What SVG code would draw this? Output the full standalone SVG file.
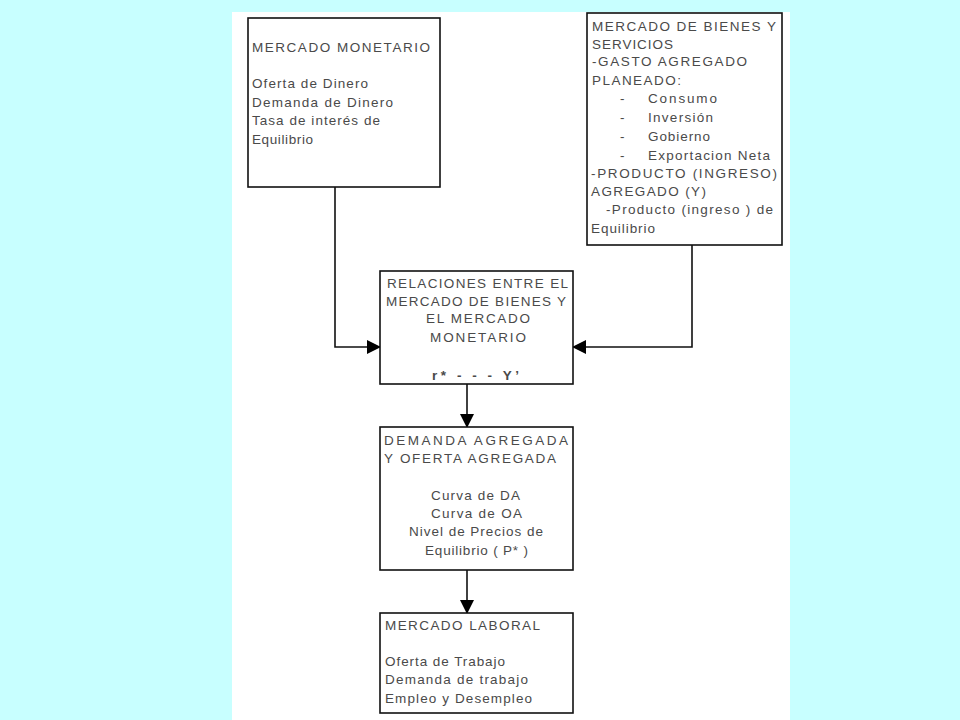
<svg xmlns="http://www.w3.org/2000/svg" width="960" height="720" viewBox="0 0 960 720">
<defs>
<style>
.box{fill:#fff;stroke:#111;stroke-width:1.6}
.t{font-family:"Liberation Sans",Arial,sans-serif;font-size:13.5px;fill:#4a4a4a}
.edge{fill:none;stroke:#111;stroke-width:1.6}
</style>
<marker id="arr" markerUnits="userSpaceOnUse" markerWidth="14" markerHeight="14" refX="13" refY="7" orient="auto">
<path d="M0,0 L14,7 L0,14 z" fill="#000"/>
</marker>
</defs>
<rect x="0" y="0" width="960" height="720" fill="#C8FFFF"/>
<rect x="232" y="12" width="558" height="708" fill="#fff"/>
<g id="connectors">
<path class="edge" d="M335,187 V347 H380" marker-end="url(#arr)"/>
<path class="edge" d="M692,245 V347 H573" marker-end="url(#arr)"/>
<path class="edge" d="M467,384 V427" marker-end="url(#arr)"/>
<path class="edge" d="M467,570 V613" marker-end="url(#arr)"/>
</g>
<g id="mercado-monetario">
<rect class="box" x="248" y="18" width="192" height="169"/>
<text class="t" x="252" y="52" textLength="178" lengthAdjust="spacing">MERCADO MONETARIO</text>
<text class="t" x="252" y="88" textLength="116" lengthAdjust="spacing">Oferta de Dinero</text>
<text class="t" x="252" y="107" textLength="141" lengthAdjust="spacing">Demanda de Dinero</text>
<text class="t" x="252" y="125" textLength="128" lengthAdjust="spacing">Tasa de interés de</text>
<text class="t" x="252" y="144" textLength="61" lengthAdjust="spacing">Equilibrio</text>
</g>
<g id="mercado-bienes">
<rect class="box" x="587" y="13" width="195" height="232"/>
<text class="t" x="592" y="31" textLength="184" lengthAdjust="spacing">MERCADO DE BIENES Y</text>
<text class="t" x="592" y="49" textLength="81" lengthAdjust="spacing">SERVICIOS</text>
<text class="t" x="592" y="66" textLength="155" lengthAdjust="spacing">-GASTO AGREGADO</text>
<text class="t" x="592" y="85" textLength="89" lengthAdjust="spacing">PLANEADO:</text>
<text class="t" x="620" y="103">-</text>
<text class="t" x="648" y="103" textLength="69" lengthAdjust="spacing">Consumo</text>
<text class="t" x="620" y="122">-</text>
<text class="t" x="648" y="122" textLength="65" lengthAdjust="spacing">Inversión</text>
<text class="t" x="620" y="141">-</text>
<text class="t" x="648" y="141" textLength="62" lengthAdjust="spacing">Gobierno</text>
<text class="t" x="620" y="160">-</text>
<text class="t" x="648" y="160" textLength="122" lengthAdjust="spacing">Exportacion Neta</text>
<text class="t" x="591" y="178" textLength="186" lengthAdjust="spacing">-PRODUCTO (INGRESO)</text>
<text class="t" x="591" y="196" textLength="115" lengthAdjust="spacing">AGREGADO (Y)</text>
<text class="t" x="606" y="214" textLength="167" lengthAdjust="spacing">-Producto (ingreso ) de</text>
<text class="t" x="591" y="233" textLength="64" lengthAdjust="spacing">Equilibrio</text>
</g>
<g id="relaciones">
<rect class="box" x="380" y="271" width="193" height="113"/>
<text class="t" x="387" y="288" textLength="181" lengthAdjust="spacing">RELACIONES ENTRE EL</text>
<text class="t" x="386" y="306" textLength="180" lengthAdjust="spacing">MERCADO DE BIENES Y</text>
<text class="t" x="426" y="323" textLength="104" lengthAdjust="spacing">EL MERCADO</text>
<text class="t" x="430" y="342" textLength="96" lengthAdjust="spacing">MONETARIO</text>
<text class="t" x="432" y="380" textLength="87" lengthAdjust="spacing" style="font-weight:bold">r*  - - -   Y’</text>
</g>
<g id="demanda-oferta">
<rect class="box" x="380" y="427" width="193" height="143"/>
<text class="t" x="384" y="445" textLength="184" lengthAdjust="spacing">DEMANDA  AGREGADA</text>
<text class="t" x="384" y="463" textLength="172" lengthAdjust="spacing">Y OFERTA AGREGADA</text>
<text class="t" x="431" y="500" textLength="89" lengthAdjust="spacing">Curva de DA</text>
<text class="t" x="431" y="518" textLength="91" lengthAdjust="spacing">Curva de OA</text>
<text class="t" x="409" y="536" textLength="134" lengthAdjust="spacing">Nivel de Precios de</text>
<text class="t" x="425" y="555" textLength="103" lengthAdjust="spacing">Equilibrio ( P* )</text>
</g>
<g id="mercado-laboral">
<rect class="box" x="380" y="613" width="193" height="100"/>
<text class="t" x="385" y="630" textLength="155" lengthAdjust="spacing">MERCADO LABORAL</text>
<text class="t" x="385" y="666" textLength="120" lengthAdjust="spacing">Oferta de Trabajo</text>
<text class="t" x="385" y="684" textLength="143" lengthAdjust="spacing">Demanda de trabajo</text>
<text class="t" x="385" y="703" textLength="147" lengthAdjust="spacing">Empleo y Desempleo</text>
</g>
</svg>
